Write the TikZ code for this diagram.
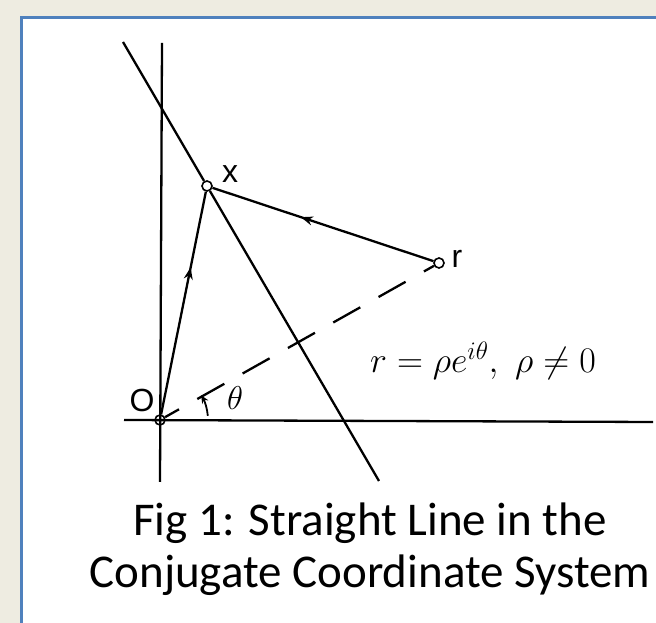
\RequirePackage{fix-cm}
\documentclass[tikz,border=0pt]{standalone}
\usepackage{fontspec}
\newfontfamily\captionfont{Carlito}
\newfontfamily\handfont{Liberation Sans}
\usetikzlibrary{arrows.meta,decorations.markings}
\definecolor{pagebg}{HTML}{EEECE1}
\definecolor{panelblue}{HTML}{4F81BD}
\begin{document}
\begin{tikzpicture}[>={Stealth[length=12pt,width=9pt]},x=1pt,y=1pt,
    pt/.style={circle,draw,line width=1.6pt,inner sep=0pt,minimum size=10pt},
    ln/.style={line width=2.3pt},
    midarrow/.style={postaction={decorate},decoration={markings,mark=at position #1 with {\arrow{>}}}},
    hand/.style={font=\handfont\fontsize{32}{32}\selectfont}]
  \useasboundingbox (0,0) rectangle (656,623);
  % page and panel
  \fill[pagebg] (0,0) rectangle (656,623);
  \fill[white] (21,0) rectangle (656,605);
  \draw[panelblue,line width=2.5pt] (21.3,0) -- (21.3,605.5) -- (656,605.5);
  % points
  \node[pt] (O) at (160,203) {};
  \node[pt,fill=white] (X) at (207,437) {};
  \node[pt,fill=white] (r) at (439,360) {};
  \coordinate (vtop) at (162,580);
  \coordinate (vbot) at (160,141);
  \coordinate (hl) at (124,203);
  \coordinate (hr) at (653,201);
  \coordinate (ltop) at (123,581);
  \coordinate (lbot) at (379,142);
  % axes and the line
  \draw[ln] (vtop) -- (vbot);
  \draw[ln] (hl) -- (hr);
  \draw[ln] (ltop) -- (X) -- (lbot);
  \draw[ln,midarrow=0.66] (O) -- (X);
  \draw[ln,midarrow=0.6] (r) -- (X);
  \draw[ln,dash pattern=on 31pt off 21pt,dash phase=15pt] (O) -- (r);
  \draw[line width=1.8pt,-{Stealth[length=8pt,width=7pt]}] ([shift={(5:48pt)}]O.center) arc[start angle=5,end angle=31,radius=48pt];
  % labels
  \node[hand] (Olab) at (142,223) {O};
  \node[hand] (xlab) at (230,449) {x};
  \node[hand] (rlab) at (457,364) {r};
  \node[font=\fontsize{33}{33}\selectfont] (thlab) at (235,225) {$\theta$};
  \node[font=\fontsize{36}{40}\selectfont,anchor=base] (eqlab) at (483,250) {$r=\rho e^{i\theta},\ \rho\neq0$};
  \node[font=\captionfont\fontsize{47}{52}\selectfont,anchor=base] (cap1) at (370,87) {Fig 1: Straight Line in the};
  \node[font=\captionfont\fontsize{47}{52}\selectfont,anchor=base] (cap2) at (370,35) {Conjugate Coordinate System};
\end{tikzpicture}
\end{document}
